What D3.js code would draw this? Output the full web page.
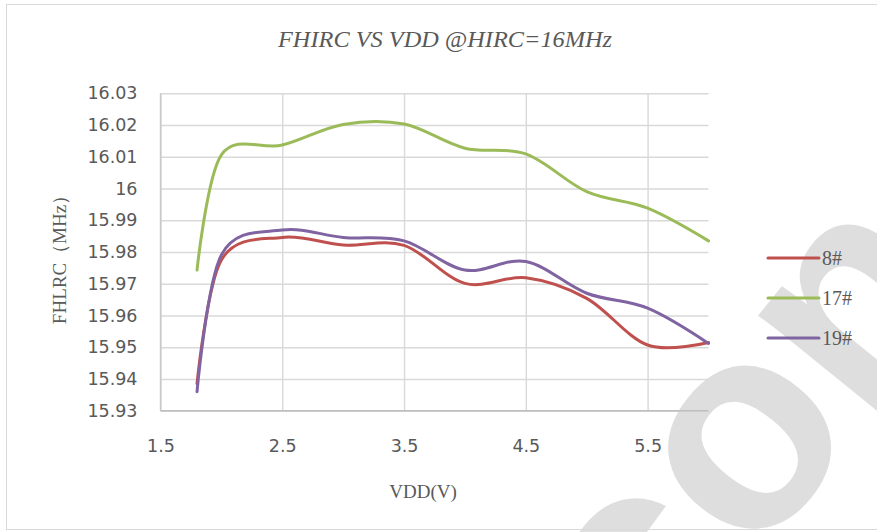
<!DOCTYPE html>
<html>
<head>
<meta charset="utf-8">
<script src="https://cdn.jsdelivr.net/npm/d3@7"></script>
<style>
  html, body { margin: 0; padding: 0; background: #ffffff; }
  svg { display: block; }
</style>
</head>
<body>
<svg id="chart" width="877" height="532"></svg>
<script>
// ---- data ----
const vdd = [1.8, 2.0, 2.5, 3.0, 3.5, 4.0, 4.5, 5.0, 5.5, 6.0];
const s8  = [15.9385, 15.9775, 15.9846, 15.9822, 15.9821, 15.9701, 15.9719, 15.9654, 15.9507, 15.9515];
const s17 = [15.9743, 16.0106, 16.0137, 16.0202, 16.0203, 16.0127, 16.0109, 15.9990, 15.9938, 15.9835];
const s19 = [15.9360, 15.9791, 15.9869, 15.9846, 15.9835, 15.9743, 15.9770, 15.9670, 15.9623, 15.9512];
const seriesNames = ["8#", "17#", "19#"];
const seriesColors = ["#c0504d", "#9bbb59", "#8064a2"];
const xTicks = [1.5, 2.5, 3.5, 4.5, 5.5];
const yTicks = [15.93, 15.94, 15.95, 15.96, 15.97, 15.98, 15.99, 16.00, 16.01, 16.02, 16.03];
const yTickLabels = ["15.93","15.94","15.95","15.96","15.97","15.98","15.99","16","16.01","16.02","16.03"];
const title = "FHIRC VS VDD @HIRC=16MHz";
const xTitle = "VDD(V)";
const yTitle = "FHLRC（MHz）";

const svg = d3.select("#chart");

// watermark (behind chart), clipped to the chart box like the reference
svg.append("defs").append("clipPath").attr("id", "wmclip")
  .append("rect").attr("x", 0).attr("y", 0).attr("width", 877).attr("height", 532);
svg.append("g").attr("clip-path", "url(#wmclip)")
  .append("text")
  .attr("transform", "translate(652,690) rotate(-51)")
  .attr("font-family", "Liberation Sans, Arial, sans-serif")
  .attr("font-weight", "bold")
  .attr("font-size", 290)
  .attr("fill", "#dedede")
  .text("con");

// outer border
svg.append("rect")
  .attr("x", 6.5).attr("y", 4.5).attr("width", 880).attr("height", 525)
  .attr("fill", "none").attr("stroke", "#d9d9d9").attr("stroke-width", 1);

const x = d3.scaleLinear().domain([1.5, 6.0]).range([160.5, 708.5]);
const y = d3.scaleLinear().domain([15.93, 16.03]).range([410.7, 93.3]);

// horizontal gridlines
const gy = svg.append("g")
  .attr("transform", `translate(${x(1.5)},0)`)
  .call(d3.axisLeft(y).tickValues(yTicks).tickSize(-(x(6.0) - x(1.5))).tickFormat((d, i) => yTickLabels[i]).tickPadding(23));
gy.select(".domain").remove();
gy.selectAll(".tick line").attr("stroke", "#d9d9d9").attr("stroke-width", 1.4);
gy.selectAll(".tick text")
  .attr("fill", "#595959")
  .attr("font-family", "DejaVu Sans, sans-serif")
  .attr("font-size", 17.5);

// vertical gridlines
const gx = svg.append("g")
  .attr("transform", `translate(0,${y(15.93)})`)
  .call(d3.axisBottom(x).tickValues(xTicks).tickSize(-(y(15.93) - y(16.03))).tickFormat(d3.format(".1f")).tickPadding(29));
gx.select(".domain").remove();
gx.selectAll(".tick line").attr("stroke", "#d9d9d9").attr("stroke-width", 1.4);
gx.selectAll(".tick text")
  .attr("fill", "#595959")
  .attr("font-family", "DejaVu Sans, sans-serif")
  .attr("font-size", 17.5);

// axis lines
svg.append("line").attr("x1", x(1.5)).attr("x2", x(1.5)).attr("y1", y(16.03)).attr("y2", y(15.93))
  .attr("stroke", "#c8c8c8").attr("stroke-width", 1.4);
svg.append("line").attr("x1", x(1.5)).attr("x2", x(6.0)).attr("y1", y(15.93)).attr("y2", y(15.93))
  .attr("stroke", "#bfbfbf").attr("stroke-width", 1.4);

// series lines
const line = d3.line().x(d => x(d[0])).y(d => y(d[1])).curve(d3.curveCardinal.tension(0));
const allSeries = [s8, s17, s19];
allSeries.forEach((s, i) => {
  svg.append("path")
    .datum(vdd.map((v, j) => [v, s[j]]))
    .attr("d", line)
    .attr("fill", "none")
    .attr("stroke", seriesColors[i])
    .attr("stroke-width", 3)
    .attr("stroke-linecap", "round")
    .attr("stroke-linejoin", "round");
});

// legend
const legendY = [258, 298, 338];
seriesNames.forEach((n, i) => {
  svg.append("line")
    .attr("x1", 768).attr("x2", 819).attr("y1", legendY[i]).attr("y2", legendY[i])
    .attr("stroke", seriesColors[i]).attr("stroke-width", 3).attr("stroke-linecap", "round");
  svg.append("text")
    .attr("x", 822).attr("y", legendY[i] + 7)
    .attr("fill", "#595959")
    .attr("font-family", "Liberation Serif, serif")
    .attr("font-size", 20)
    .text(n);
});

// title
svg.append("text")
  .attr("x", 445).attr("y", 47)
  .attr("text-anchor", "middle")
  .attr("fill", "#595959")
  .attr("font-family", "Liberation Serif, serif")
  .attr("font-style", "italic")
  .attr("font-size", 23.5)
  .attr("textLength", 334)
  .attr("lengthAdjust", "spacingAndGlyphs")
  .text(title);

// axis titles
svg.append("text")
  .attr("x", 423).attr("y", 498)
  .attr("text-anchor", "middle")
  .attr("fill", "#595959")
  .attr("font-family", "Liberation Serif, serif")
  .attr("font-size", 19)
  .text(xTitle);

svg.append("text")
  .attr("transform", "translate(66,255) rotate(-90)")
  .attr("text-anchor", "middle")
  .attr("fill", "#595959")
  .attr("font-family", "Liberation Serif, serif")
  .attr("font-size", 19)
  .text(yTitle);
</script>
</body>
</html>
